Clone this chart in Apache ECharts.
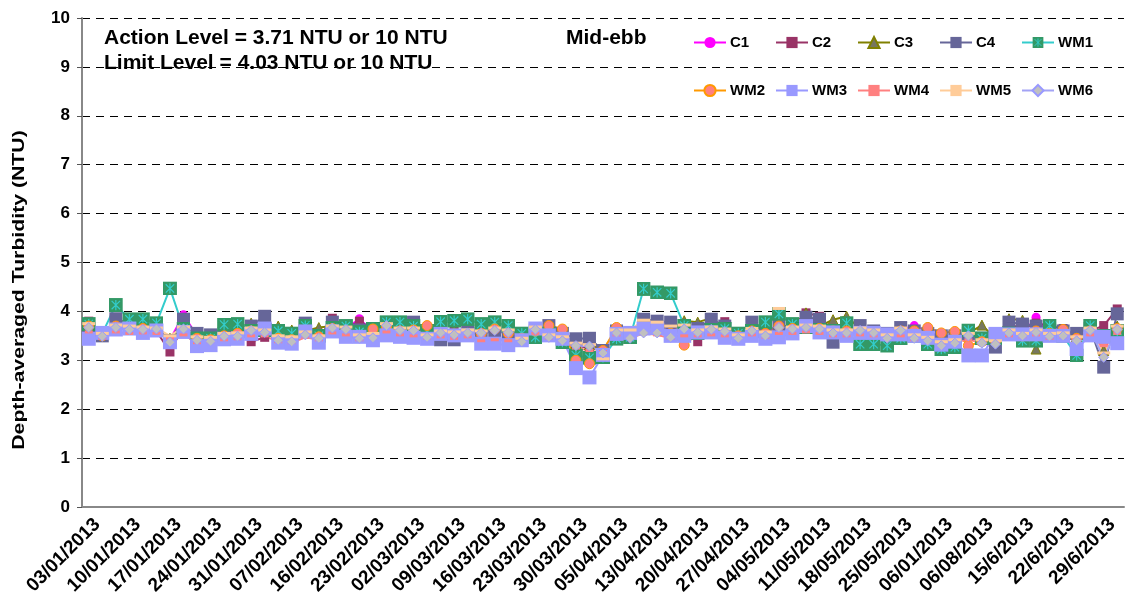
<!DOCTYPE html>
<html><head><meta charset="utf-8">
<script src="https://cdn.jsdelivr.net/npm/echarts@6/dist/echarts.min.js"></script>
<style>html,body{margin:0;padding:0;background:#fff}#c{width:1127px;height:612px}</style>
</head><body><div id="c"></div>
<script>
var dates = ['03/01/2013','05/01/2013','08/01/2013','10/01/2013','12/01/2013','15/01/2013','17/01/2013','19/01/2013','22/01/2013',
'24/01/2013','26/01/2013','29/01/2013','31/01/2013','02/02/2013','05/02/2013','07/02/2013','09/02/2013','14/02/2013',
'16/02/2013','19/02/2013','21/02/2013','23/02/2013','26/02/2013','28/02/2013','02/03/2013','05/03/2013','07/03/2013',
'09/03/2013','12/03/2013','14/03/2013','16/03/2013','19/03/2013','21/03/2013','23/03/2013','26/03/2013','28/03/2013',
'30/03/2013','02/04/2013','03/04/2013','05/04/2013','09/04/2013','11/04/2013','13/04/2013','16/04/2013','18/04/2013',
'20/04/2013','23/04/2013','25/04/2013','27/04/2013','30/04/2013','02/05/2013','04/05/2013','07/05/2013','09/05/2013',
'11/05/2013','14/05/2013','16/05/2013','18/05/2013','21/05/2013','23/05/2013','25/05/2013','28/05/2013','30/05/2013',
'06/01/2013','06/04/2013','06/06/2013','06/08/2013','06/11/2013','06/13/2013','15/6/2013','18/6/2013','20/6/2013',
'22/6/2013','25/6/2013','27/6/2013','29/6/2013','2/7/2013'];

var C1 = [3.72,3.52,3.70,3.68,3.66,3.64,3.42,3.93,3.50,3.45, 3.52,3.55,3.62,3.60,3.48,3.45,3.58,3.50,3.68,3.65,
3.85,3.58,3.70,3.62,3.64,3.55,3.58,3.55,3.60,3.58, 3.62,3.58,3.45,3.62,3.55,3.48,3.30,3.28,3.20,3.58,
3.52,3.62,3.60,3.55,3.60,3.58,3.64,3.60,3.50,3.62, 3.55,3.68,3.66,3.70,3.66,3.58,3.60,3.60,3.58,3.50,
3.62,3.71,3.58,3.48,3.50,3.52,3.42,3.40,3.60,3.55, 3.88,3.55,3.58,3.45,3.62,3.35,3.66];
var C2 = [3.80,3.55,3.75,3.70,3.70,3.60,3.17,3.70,3.50,3.50, 3.55,3.60,3.38,3.47,3.55,3.50,3.60,3.45,3.86,3.65,
3.80,3.62,3.70,3.60,3.75,3.55,3.55,3.60,3.58,3.60, 3.65,3.58,3.45,3.60,3.60,3.50,3.30,3.25,3.20,3.55,
3.50,3.75,3.70,3.65,3.60,3.38,3.70,3.79,3.50,3.70, 3.60,3.65,3.70,3.97,3.90,3.60,3.65,3.60,3.60,3.50,
3.60,3.60,3.50,3.45,3.50,3.50,3.40,3.50,3.74,3.65, 3.76,3.70,3.65,3.50,3.60,3.71,4.05];
var C3 = [3.70,3.55,3.72,3.70,3.68,3.62,3.45,3.65,3.52,3.48, 3.55,3.58,3.76,3.62,3.70,3.62,3.60,3.67,3.70,3.66,
3.60,3.58,3.72,3.64,3.66,3.55,3.60,3.62,3.62,3.60, 3.64,3.60,3.48,3.66,3.58,3.50,3.35,3.32,3.22,3.60,
3.55,3.70,3.65,3.60,3.81,3.78,3.86,3.66,3.52,3.64, 3.58,3.70,3.68,3.97,3.70,3.83,3.90,3.64,3.60,3.52,
3.64,3.58,3.55,3.45,3.48,3.55,3.72,3.45,3.85,3.82, 3.23,3.60,3.62,3.48,3.64,3.20,3.70];
var C4 = [3.65,3.50,3.85,3.75,3.70,3.65,3.40,3.84,3.55,3.52, 3.55,3.60,3.70,3.90,3.55,3.50,3.76,3.50,3.78,3.70,
3.62,3.60,3.70,3.65,3.78,3.60,3.42,3.42,3.60,3.55, 3.60,3.55,3.45,3.60,3.71,3.55,3.44,3.45,3.20,3.60,
3.55,3.84,3.80,3.78,3.60,3.65,3.84,3.70,3.50,3.78, 3.60,3.70,3.70,3.88,3.84,3.37,3.60,3.71,3.60,3.55,
3.67,3.60,3.55,3.50,3.50,3.55,3.45,3.27,3.78,3.74, 3.70,3.65,3.60,3.55,3.65,2.86,3.95];
var WM1 = [3.74,3.55,4.13,3.84,3.84,3.76,4.47,3.65,3.45,3.45, 3.73,3.74,3.60,3.62,3.60,3.55,3.71,3.50,3.66,3.70,
3.58,3.64,3.78,3.78,3.70,3.60,3.79,3.81,3.84,3.74, 3.78,3.71,3.55,3.47,3.55,3.37,3.10,3.05,3.06,3.44,
3.47,4.46,4.39,4.37,3.71,3.55,3.62,3.65,3.55,3.60, 3.78,3.95,3.74,3.68,3.62,3.60,3.76,3.33,3.33,3.30,
3.45,3.50,3.33,3.23,3.27,3.61,3.45,3.45,3.55,3.40, 3.40,3.71,3.50,3.10,3.71,3.50,3.60];
var WM2 = [3.70,3.50,3.70,3.65,3.65,3.62,3.40,3.60,3.45,3.42, 3.50,3.55,3.60,3.60,3.45,3.42,3.55,3.48,3.65,3.60,
3.50,3.64,3.68,3.60,3.62,3.71,3.55,3.50,3.55,3.55, 3.64,3.55,3.45,3.60,3.71,3.64,3.00,2.93,3.20,3.67,
3.57,3.60,3.60,3.55,3.31,3.55,3.60,3.55,3.50,3.60, 3.55,3.70,3.65,3.70,3.65,3.60,3.60,3.58,3.55,3.50,
3.60,3.60,3.67,3.56,3.59,3.30,3.38,3.40,3.55,3.50, 3.60,3.55,3.63,3.45,3.60,3.40,3.65];
var WM3 = [3.44,3.56,3.63,3.65,3.56,3.61,3.37,3.58,3.29,3.31, 3.43,3.44,3.54,3.65,3.36,3.34,3.59,3.36,3.59,3.48,
3.48,3.41,3.51,3.48,3.46,3.44,3.54,3.51,3.51,3.34, 3.34,3.31,3.41,3.65,3.51,3.44,2.84,2.65,3.11,3.54,
3.56,3.65,3.66,3.50,3.50,3.57,3.57,3.46,3.44,3.50, 3.44,3.47,3.55,3.70,3.57,3.57,3.50,3.56,3.56,3.53,
3.53,3.50,3.46,3.32,3.38,3.10,3.10,3.54,3.53,3.53, 3.53,3.50,3.50,3.23,3.51,3.48,3.35];
var WM4 = [3.58,3.45,3.58,3.55,3.56,3.55,3.45,3.52,3.36,3.38, 3.42,3.44,3.50,3.50,3.38,3.36,3.47,3.42,3.56,3.52,
3.42,3.45,3.58,3.52,3.50,3.45,3.48,3.45,3.48,3.40, 3.42,3.40,3.45,3.55,3.45,3.40,3.25,3.20,3.18,3.52,
3.45,3.55,3.52,3.45,3.50,3.50,3.52,3.50,3.45,3.52, 3.47,3.55,3.55,3.58,3.55,3.50,3.50,3.52,3.50,3.45,
3.50,3.42,3.40,3.35,3.38,3.42,3.36,3.38,3.50,3.48, 3.52,3.45,3.48,3.40,3.52,3.30,3.55];
var WM5 = [3.75,3.55,3.72,3.70,3.68,3.66,3.50,3.68,3.48,3.47, 3.55,3.56,3.66,3.62,3.50,3.48,3.58,3.50,3.70,3.68,
3.52,3.55,3.75,3.66,3.66,3.52,3.60,3.58,3.62,3.60, 3.66,3.62,3.45,3.68,3.52,3.48,3.35,3.32,3.03,3.62,
3.62,3.82,3.78,3.70,3.72,3.62,3.68,3.64,3.52,3.65, 3.58,4.06,3.68,3.72,3.70,3.62,3.62,3.66,3.62,3.52,
3.66,3.52,3.47,3.38,3.42,3.55,3.42,3.40,3.62,3.55, 3.62,3.55,3.56,3.48,3.66,3.15,3.70];
var WM6 = [3.67,3.49,3.67,3.63,3.63,3.64,3.37,3.64,3.41,3.39, 3.49,3.49,3.61,3.57,3.41,3.38,3.52,3.45,3.66,3.63,
3.45,3.46,3.71,3.61,3.61,3.47,3.56,3.52,3.56,3.56, 3.61,3.57,3.38,3.63,3.47,3.40,3.30,3.29,3.15,3.56,
3.45,3.56,3.56,3.47,3.64,3.57,3.63,3.59,3.45,3.60, 3.50,3.67,3.64,3.67,3.64,3.56,3.56,3.61,3.56,3.45,
3.61,3.45,3.40,3.30,3.35,3.50,3.35,3.33,3.56,3.50, 3.57,3.49,3.50,3.40,3.61,3.06,3.63];

var yTicks = [0,1,2,3,4,5,6,7,8,9,10];
var legendRows = [['C1','C2','C3','C4','WM1'], ['WM2','WM3','WM4','WM5','WM6']];
var FONT = '"Liberation Sans", Arial, Helvetica, sans-serif';

var wm1Svg = "<svg xmlns='http://www.w3.org/2000/svg' width='30' height='30' viewBox='0 0 30 30'>" +
  "<rect width='30' height='30' fill='#339966'/>" +
  "<path d='M15 4V26M6 6L24 24M24 6L6 24' stroke='#33CCCC' stroke-width='2.5' fill='none'/></svg>";
var wm1Symbol = 'image://data:image/svg+xml;charset=utf-8,' + encodeURIComponent(wm1Svg);

function mk(name, data, lineColor, symbol, size, fill, border) {
  return {
    name: name, type: 'line', data: data,
    symbol: symbol, symbolSize: size, showAllSymbol: true,
    lineStyle: { color: lineColor, width: 2 },
    itemStyle: { color: fill, borderColor: border || fill, borderWidth: border ? 1 : 0 },
    emphasis: { disabled: true }
  };
}

var series = [
  mk('C1', C1, '#FF00FF', 'circle', 9, '#FF00FF'),
  mk('C2', C2, '#993366', 'rect', 9, '#993366'),
  mk('C3', C3, '#808000', 'triangle', 10, '#77775F', '#808000'),
  mk('C4', C4, '#666699', 'rect', 13, '#666699'),
  mk('WM1', WM1, '#33CCCC', wm1Symbol, 14, '#339966'),
  mk('WM2', WM2, '#FF9900', 'circle', 10, '#FF8080', '#FF9900'),
  mk('WM3', WM3, '#9999FF', 'rect', 14, '#9999FF'),
  mk('WM4', WM4, '#FF8080', 'rect', [8, 3], '#FF8080'),
  mk('WM5', WM5, '#FFCC99', 'rect', [13, 3], '#FFCC99'),
  mk('WM6', WM6, '#A3A3F5', 'diamond', 10, '#C0C0C0', '#9999FF')
];

var legends = [];
legendRows.forEach(function (row, r) {
  row.forEach(function (name, c) {
    legends.push({
      data: [name], left: 693 + 82 * c, top: 35 + 48 * r, padding: 0,
      itemWidth: 32, itemHeight: 14, itemGap: 0, selectedMode: false,
      textStyle: { fontFamily: FONT, fontWeight: 'bold', fontSize: 15, color: '#000', padding: [0, 0, 0, -1] }
    });
  });
});

var chart = echarts.init(document.getElementById('c'), null, { renderer: 'canvas' });
chart.setOption({
  animation: false,
  backgroundColor: '#fff',
  grid: { left: 82, right: 3, top: 18, bottom: 105, containLabel: false },
  legend: legends,
  xAxis: {
    type: 'category', data: dates, boundaryGap: true,
    axisLine: { lineStyle: { color: '#888', width: 2 } },
    axisTick: { interval: 0, length: 5, lineStyle: { color: '#555' } },
    axisLabel: { interval: 2, rotate: 45, margin: 23, padding: [0, -12, 0, 0], fontFamily: FONT, fontWeight: 'bold', fontSize: 19, color: '#000' },
    splitLine: { show: false }
  },
  yAxis: {
    type: 'value', min: yTicks[0], max: yTicks[yTicks.length - 1], interval: 1,
    axisLine: { show: true, lineStyle: { color: '#888', width: 2 } },
    axisTick: { show: true, length: 5, lineStyle: { color: '#555' } },
    axisLabel: { margin: 12, fontFamily: FONT, fontWeight: 'bold', fontSize: 17, color: '#000' },
    splitLine: { show: true, lineStyle: { color: '#000', type: [8, 6], width: 1 } }
  },
  graphic: [
    { type: 'text', x: 104, y: 38, style: { text: 'Action Level = 3.71 NTU or 10 NTU', font: 'bold 21px ' + FONT, fill: '#000', align: 'left', verticalAlign: 'middle' } },
    { type: 'text', x: 104, y: 63, style: { text: 'Limit Level = 4.03 NTU or 10 NTU', font: 'bold 21px ' + FONT, fill: '#000', align: 'left', verticalAlign: 'middle' } },
    { type: 'text', x: 566, y: 38, style: { text: 'Mid-ebb', font: 'bold 21px ' + FONT, fill: '#000', align: 'left', verticalAlign: 'middle' } },
    { type: 'text', x: 19, y: 290, rotation: Math.PI / 2, scaleX: 1.25, style: { text: 'Depth-averaged Turbidity (NTU)', font: 'bold 17px ' + FONT, fill: '#000', align: 'center', verticalAlign: 'middle' } }
  ],
  series: series
});
</script></body></html>
